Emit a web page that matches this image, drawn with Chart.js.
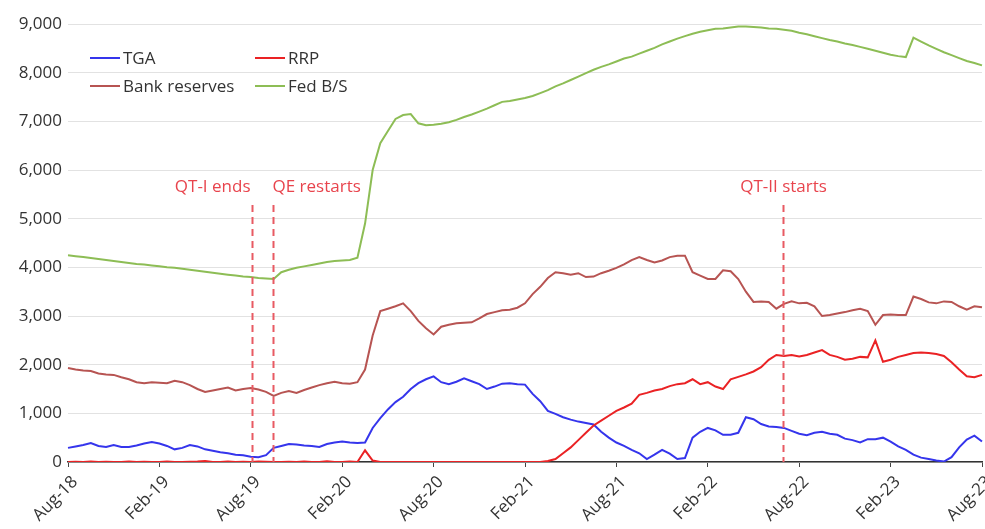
<!DOCTYPE html>
<html>
<head>
<meta charset="utf-8">
<script src="https://cdn.jsdelivr.net/npm/chart.js@4.4.0/dist/chart.umd.min.js"></script>
<style>
  html, body { margin: 0; padding: 0; background: #fff; }
  canvas { display: block; }
</style>
</head>
<body>
<canvas id="chart" width="985" height="529"></canvas>
<script>
// Half-monthly readings, Aug-18 .. Aug-23, USD bn
const tickLabels = ['Aug-18', 'Feb-19', 'Aug-19', 'Feb-20', 'Aug-20', 'Feb-21',
  'Aug-21', 'Feb-22', 'Aug-22', 'Feb-23', 'Aug-23'];

const fedBS = [
  4250, 4230, 4210, 4190, 4170, 4150, 4130, 4110, 4090, 4070, 4060, 4040,
  4020, 4000, 3990, 3970, 3950, 3930, 3910, 3890, 3870, 3850, 3830, 3810,
  3800, 3780, 3770, 3760, 3900, 3950, 3990, 4020, 4050, 4080, 4110, 4130,
  4140, 4150, 4200, 4900, 6000, 6550, 6800, 7050, 7130, 7150, 6960, 6920,
  6930, 6950, 6980, 7030, 7090, 7140, 7200, 7260, 7330, 7400, 7420, 7450,
  7480, 7520, 7580, 7640, 7720, 7780, 7850, 7920, 7990, 8060, 8120, 8170,
  8230, 8290, 8330, 8390, 8450, 8510, 8580, 8640, 8700, 8750, 8800, 8840,
  8870, 8900, 8910, 8930, 8950, 8950, 8940, 8930, 8910, 8900, 8880, 8860,
  8820, 8790, 8750, 8710, 8670, 8640, 8600, 8570, 8530, 8490, 8450, 8410,
  8370, 8340, 8320, 8720, 8640, 8560, 8490, 8420, 8360, 8300, 8240, 8200,
  8150
];

const reserves = [
  1930, 1900, 1880, 1870, 1820, 1800, 1790, 1740, 1700, 1640, 1620, 1640,
  1630, 1620, 1670, 1640, 1580, 1500, 1440, 1470, 1500, 1530, 1470, 1500,
  1520, 1490, 1440, 1360, 1420, 1460, 1420, 1480, 1530, 1580, 1620, 1650,
  1620, 1610, 1640, 1900, 2600, 3100, 3150, 3200, 3260, 3100, 2900, 2750,
  2620, 2780, 2820, 2850, 2860, 2870, 2950, 3040, 3080, 3120, 3130, 3170,
  3260, 3450, 3600, 3780, 3900, 3880, 3850, 3880, 3800, 3810, 3880, 3930,
  3990, 4060, 4150, 4210, 4150, 4100, 4140, 4210, 4240, 4240, 3900, 3830,
  3760, 3760, 3940, 3920, 3760, 3500, 3290, 3300, 3290, 3150, 3250, 3300,
  3260, 3270, 3200, 3000, 3020, 3050, 3080, 3120, 3150, 3100, 2820, 3020,
  3030, 3020, 3020, 3400, 3350, 3280, 3260, 3300, 3290, 3200, 3130, 3200,
  3180
];

const tga = [
  290, 320, 350, 390, 330, 310, 350, 310, 310, 340, 380, 410,
  380, 330, 260, 290, 350, 320, 260, 230, 200, 180, 150, 140,
  110, 100, 140, 290, 330, 370, 360, 340, 330, 310, 370, 400,
  420, 400, 390, 400, 700, 900, 1080, 1230, 1340, 1500, 1620, 1700,
  1760, 1640, 1600, 1650, 1720, 1660, 1600, 1500, 1550, 1610, 1620, 1600,
  1590, 1400, 1250, 1050, 990, 920, 870, 830, 800, 770, 620, 500,
  400, 330, 250, 180, 60, 150, 250, 170, 60, 80, 500, 620,
  700, 650, 560, 560, 600, 920, 880, 780, 730, 720, 700, 640,
  580, 550, 600, 620, 580, 560, 480, 450, 400, 470, 470, 500,
  420, 320, 250, 150, 90, 60, 30, 10, 100, 300, 460, 540,
  420
];

const rrp = [
  0, 5, 0, 10, 0, 5, 0, 0, 10, 0, 5, 0,
  0, 10, 0, 0, 5, 10, 20, 0, 0, 10, 0, 5,
  0, 10, 5, 0, 0, 5, 0, 10, 0, 0, 15, 0,
  0, 10, 0, 240, 30, 0, 0, 0, 0, 0, 0, 0,
  0, 0, 0, 0, 0, 0, 0, 0, 0, 0, 0, 0,
  0, 0, 0, 20, 60, 180, 300, 450, 600, 750, 850, 950,
  1050, 1120, 1200, 1380, 1420, 1470, 1500, 1560, 1600, 1620, 1700, 1600,
  1640, 1550, 1500, 1700, 1750, 1800, 1860, 1950, 2100, 2200, 2180, 2200,
  2170, 2200, 2250, 2300, 2200, 2160, 2100, 2120, 2160, 2150, 2500, 2060,
  2100, 2160, 2200, 2240, 2250, 2240, 2220, 2180, 2050, 1900, 1760, 1740,
  1790
];

// policy markers, position in half-month steps from Aug-18
const eventLabels = ['QT-I ends', 'QE restarts', 'QT-II starts'];
const eventIndex = [24.2, 26.9, 93.9];
const eventAlign = ['right', 'left', 'center'];

// category labels, one per half month
const monthNames = ['Jan', 'Feb', 'Mar', 'Apr', 'May', 'Jun', 'Jul', 'Aug', 'Sep', 'Oct', 'Nov', 'Dec'];
const periods = fedBS.map((_, i) => {
  const m = 7 + Math.floor(i / 2);
  const yr = 18 + Math.floor(m / 12);
  return monthNames[m % 12] + '-' + yr + (i % 2 ? ' (2H)' : ' (1H)');
});

const FONT = '"Open Sans", "Noto Sans", sans-serif';

const series = [
  { label: 'TGA', data: tga, color: '#3535ec', order: 1 },
  { label: 'RRP', data: rrp, color: '#ea2224', order: 0 },
  { label: 'Bank reserves', data: reserves, color: '#b75452', order: 2 },
  { label: 'Fed B/S', data: fedBS, color: '#8dbd55', order: 3 }
];

// dashed event lines, their captions and the in-plot legend
const overlay = {
  id: 'overlay',
  afterDatasetsDraw(chart) {
    const { ctx, scales: { x, y } } = chart;
    ctx.save();
    ctx.font = '17px ' + FONT;
    ctx.textBaseline = 'middle';

    eventLabels.forEach((label, i) => {
      const px = Math.round(x.getPixelForValue(eventIndex[i])) + 0.5;
      ctx.strokeStyle = '#e85a63';
      ctx.lineWidth = 2;
      ctx.setLineDash([7, 5]);
      ctx.beginPath();
      ctx.moveTo(px, 205);
      ctx.lineTo(px, y.getPixelForValue(0));
      ctx.stroke();
      ctx.setLineDash([]);
      ctx.fillStyle = '#e8444d';
      ctx.textAlign = eventAlign[i];
      const dx = eventAlign[i] === 'right' ? -2 : (eventAlign[i] === 'left' ? -1 : 0);
      ctx.fillText(label, px + dx, 187);
    });

    const cols = [90, 255];
    const rows = [58, 86];
    series.forEach((s, i) => {
      const lx = cols[i % 2];
      const ly = rows[Math.floor(i / 2)];
      ctx.strokeStyle = s.color;
      ctx.lineWidth = 2;
      ctx.beginPath();
      ctx.moveTo(lx, ly);
      ctx.lineTo(lx + 30, ly);
      ctx.stroke();
      ctx.fillStyle = '#333';
      ctx.textAlign = 'left';
      ctx.fillText(s.label, lx + 33, ly + 1);
    });
    ctx.restore();
  }
};

new Chart(document.getElementById('chart'), {
  type: 'line',
  data: {
    labels: periods,
    datasets: series.map(s => ({
      label: s.label,
      data: s.data,
      borderColor: s.color,
      backgroundColor: s.color,
      borderWidth: 2,
      pointRadius: 0,
      tension: 0,
      order: s.order
    }))
  },
  options: {
    responsive: false,
    animation: false,
    layout: { padding: { top: 24, right: 3, left: 0, bottom: 0 } },
    plugins: {
      legend: { display: false },
      tooltip: { enabled: false }
    },
    scales: {
      x: {
        type: 'category',
        offset: false,
        afterBuildTicks: (scale) => {
          scale.ticks = scale.ticks.filter(t => t.value % 12 === 0);
        },
        afterFit: (scale) => {
          scale.height = 67;
          scale.paddingLeft = 0;
          scale.paddingRight = 0;
        },
        ticks: {
          autoSkip: false,
          minRotation: 45,
          maxRotation: 45,
          padding: 5,
          labelOffset: 7,
          color: '#333',
          font: { family: FONT, size: 17 },
          callback: (value) => tickLabels[value / 12]
        },
        grid: {
          drawOnChartArea: false,
          drawTicks: true,
          tickLength: 5,
          color: '#444'
        },
        border: { display: true, color: '#333', width: 1.5 }
      },
      y: {
        min: 0,
        max: 9000,
        afterFit: (scale) => { scale.width = 68; },
        ticks: {
          stepSize: 1000,
          padding: 6,
          color: '#333',
          font: { family: FONT, size: 17 },
          callback: (value) => value.toLocaleString('en-US')
        },
        grid: {
          color: '#e2e2e2',
          lineWidth: 1,
          drawTicks: false
        },
        border: { display: false }
      }
    }
  },
  plugins: [overlay]
});
</script>
</body>
</html>
